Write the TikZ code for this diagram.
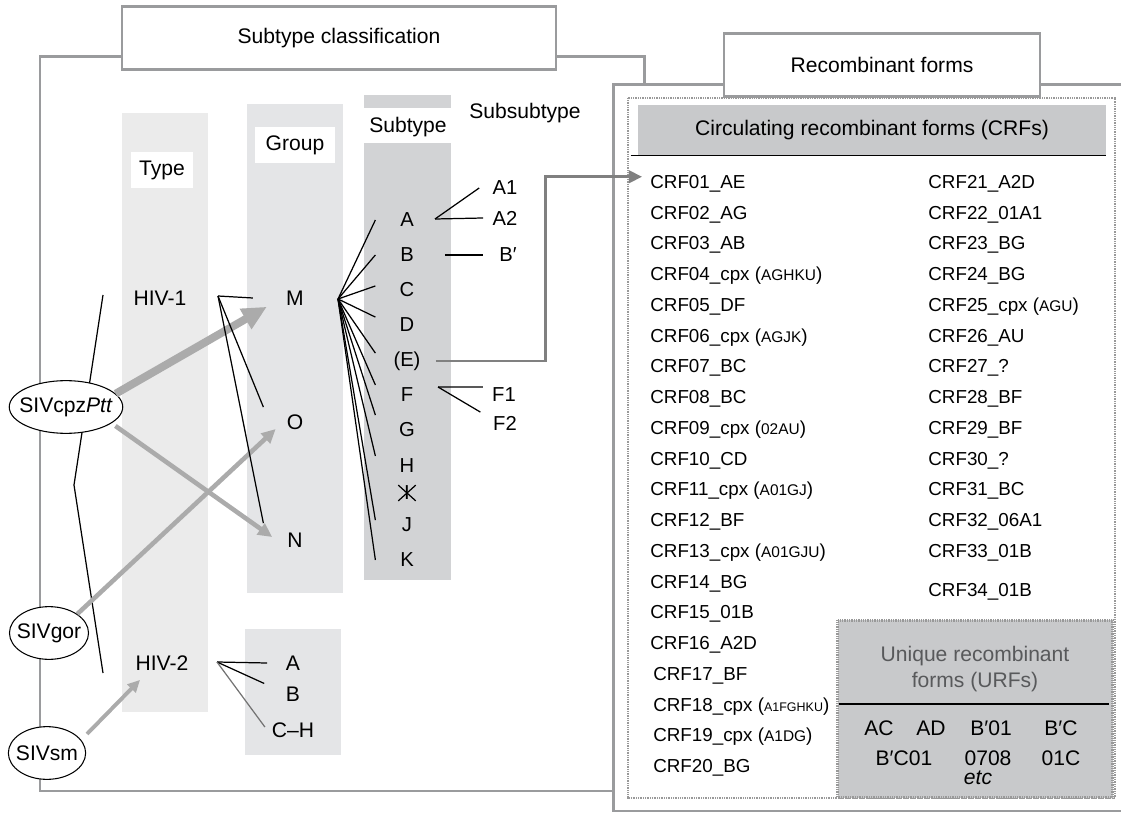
\documentclass[tikz,border=0pt]{standalone}
\usepackage{fontspec}
\setmainfont{Liberation Sans}
\usetikzlibrary{shapes.geometric,arrows.meta}
\definecolor{typegray}{HTML}{EBEBEB}
\definecolor{groupgray}{HTML}{E4E5E7}
\definecolor{subgray}{HTML}{D2D3D5}
\definecolor{boxgray}{HTML}{C8C9CB}
\definecolor{framegray}{HTML}{9A9B9D}
\definecolor{sivgray}{HTML}{ABABAB}
\definecolor{urftext}{HTML}{58595B}
\newcommand{\smc}[1]{{\fontsize{8.8}{10}\selectfont #1}}
\newcommand{\tinyc}[1]{{\fontsize{7.1}{9}\selectfont #1}}

\begin{document}
\begin{tikzpicture}[x=0.02cm, y=-0.02cm, font=\fontsize{12}{14}\selectfont,
    frm/.style={draw=framegray, line width=1.7pt},
    tag/.style={draw=framegray, line width=1.5pt, fill=white, minimum height=36pt},
    hdr/.style={fill=white, minimum height=20pt, inner sep=1pt},
    ltr/.style={inner sep=1pt},
    sub/.style={inner sep=1pt, font=\fontsize{11.5}{13}\selectfont},
    siv/.style={draw, ellipse, fill=white, line width=0.6pt, inner sep=0pt, minimum height=30pt},
    sivarr/.style={draw=sivgray, line width=2.6pt, -{Triangle[length=8pt,width=7.5pt]}},
    lnk/.style={line width=0.7pt},
    earrow/.style={draw=black!50, line width=1.7pt, -{Triangle[length=7.5pt,width=7pt]}},
    crf/.style={align=left, inner sep=0pt, anchor=north west, font=\fontsize{10.7}{17.5}\selectfont},
    dotbox/.style={draw=black!40, line width=1.6pt, dash pattern=on 0.5pt off 0.5pt},
  ]
  \useasboundingbox (0,0) rectangle (1121,813);

  % subtype classification frame
  \draw[frm] (40,57) rectangle (644,791);
  \node[tag, minimum width=247pt] (sct) at (339,38) {Subtype classification};

  % columns
  \fill[typegray] (122,113) rectangle (208,712);
  \fill[groupgray] (247,104) rectangle (343,593);
  \fill[groupgray] (245,629) rectangle (341,755);
  \fill[subgray] (364,95) rectangle (451,108);
  \fill[subgray] (364,143) rectangle (451,580);
  \node[hdr, minimum width=35pt] (type) at (162,170) {Type};
  \node[hdr, minimum width=46pt] (group) at (295,145) {Group};
  \node[ltr] (subt) at (408,127) {Subtype};
  \node[ltr] (subsub) at (525,113) {Subsubtype};

  % SIV origins
  \draw[lnk] (103,295) -- (74,485) -- (103,673);
  \node[siv, minimum width=64.6pt, label=center:{SIVcpz\textit{Ptt}}] (cpz) at (66,407) {};
  \node[siv, minimum width=45pt, label=center:{SIVgor}] (gor) at (49,633) {};
  \node[siv, minimum width=44pt, label=center:{SIVsm}] (sm) at (47,753) {};

  % types and groups
  \node[ltr] (h1) at (160,298) {HIV-1};
  \node[ltr] (h2) at (162,663) {HIV-2};
  \node[ltr] (gM) at (295,298) {M};
  \node[ltr] (gO) at (295,422) {O};
  \node[ltr] (gN) at (295,540) {N};
  \node[ltr] (gA) at (293,663) {A};
  \node[ltr] (gB) at (293,694) {B};
  \node[ltr] (gCH) at (293,730) {C–H};

  % cross-species transmissions
  \draw[sivarr, line width=4.5pt, -{Triangle[length=14pt,width=12.5pt]}] (cpz.15) -- ([xshift=-16pt,yshift=-5pt]gM.center);
  \draw[sivarr] ([xshift=5pt]cpz.-25) -- ([xshift=-13pt,yshift=1.7pt]gN.center);
  \draw[sivarr] (gor.north east) -- ([xshift=-11pt,yshift=-4pt]gO.center);
  \draw[sivarr, line width=2.2pt, -{Triangle[length=7pt,width=6.5pt]}] ([xshift=7pt]sm.north east) -- ([xshift=-12.5pt,yshift=-9.6pt]h2.center);

  % subtypes
  \node[sub] (sA) at (407,220) {A};
  \node[sub] (sB) at (407,255) {B};
  \node[sub] (sC) at (407,290) {C};
  \node[sub] (sD) at (407,325) {D};
  \node[sub] (sE) at (407,361) {(E)};
  \node[sub] (sF) at (407,395) {F};
  \node[sub] (sG) at (407,430) {G};
  \node[sub] (sH) at (407,466) {H};
  \node[sub] (sI) at (407,493) {I};
  \draw[lnk] ([xshift=-5pt,yshift=4.5pt]sI.center) -- ([xshift=5pt,yshift=-4.5pt]sI.center);
  \draw[lnk] ([xshift=5pt,yshift=4.5pt]sI.center) -- ([xshift=-5pt,yshift=-4.5pt]sI.center);
  \node[sub] (sJ) at (407,525) {J};
  \node[sub] (sK) at (407,560) {K};
  \node[sub] (sA1) at (505,188) {A1};
  \node[sub] (sA2) at (505,218) {A2};
  \node[sub] (sBp) at (508,255) {B′};
  \node[sub] (sF1) at (504,395) {F1};
  \node[sub] (sF2) at (505,423) {F2};

  % branching
  \coordinate (h1fan) at (218,296);
  \draw[lnk] (h1fan) -- ([xshift=-24pt]gM.center);
  \draw[lnk] (h1fan) -- ([xshift=-18pt,yshift=8.5pt]gO.center);
  \draw[lnk] (h1fan) -- ([xshift=-18pt,yshift=9.6pt]gN.center);
  \coordinate (h2fan) at (217,662);
  \draw[lnk] (h2fan) -- ([xshift=-14.7pt]gA.center);
  \draw[lnk] (h2fan) -- ([xshift=-16.4pt,yshift=6pt]gB.center);
  \draw[lnk, black!55] (h2fan) -- ([xshift=-16pt,yshift=1.7pt]gCH.center);
  \coordinate (mfan) at (338,299);
  \foreach \s/\dy in {A/0,B/0,C/2.3,D/4.5,E/4.5,F/5.7,G/8.5,H/5.7,J/2.8,K/0}
    \draw[lnk] (mfan) -- ([xshift=-18pt,yshift=\dy pt]s\s.center);
  \coordinate (afan) at (435,219);
  \draw[lnk] (afan) -- ([xshift=-14.7pt]sA1.center);
  \draw[lnk] (afan) -- ([xshift=-12.5pt]sA2.center);
  \draw[lnk] ([xshift=21.5pt]sB.center) -- ([xshift=-14pt]sBp.center);
  \coordinate (ffan) at (438,387);
  \draw[lnk] (ffan) -- ([xshift=-12pt,yshift=4.5pt]sF1.center);
  \draw[lnk] (ffan) -- ([xshift=-14pt,yshift=6.2pt]sF2.center);

  % recombinant forms frame
  \draw[frm, fill=white] (613,85) rectangle (1140,811);
  \node[tag, minimum width=180pt] (rft) at (882,65) {Recombinant forms};
  \draw[dotbox] (628,98) rectangle (1115,798);
  \node[fill=boxgray, minimum width=266.5pt, minimum height=28.4pt] (crfh) at (872,130) {Circulating recombinant forms (CRFs)};
  \draw[lnk] ([xshift=-4pt]crfh.south west) -- (crfh.south east);

  % CRF lists
  \node[crf] (crfL) at (650,175) {CRF01\_AE\\ CRF02\_AG\\ CRF03\_AB\\ CRF04\_cpx (\smc{AGHKU})\\ CRF05\_DF\\
    CRF06\_cpx (\smc{AGJK})\\ CRF07\_BC\\ CRF08\_BC\\ CRF09\_cpx (\smc{02AU})\\ CRF10\_CD\\
    CRF11\_cpx (\smc{A01GJ})\\ CRF12\_BF\\ CRF13\_cpx (\smc{A01GJU})\\ CRF14\_BG\\ CRF15\_01B\\ CRF16\_A2D\\
    \hspace*{1.7pt}CRF17\_BF\\ \hspace*{1.7pt}CRF18\_cpx (\tinyc{A1FGHKU})\\ \hspace*{1.7pt}CRF19\_cpx (\smc{A1DG})\\ \hspace*{1.7pt}CRF20\_BG};
  \node[crf] (crfR) at (928,175) {CRF21\_A2D\\ CRF22\_01A1\\ CRF23\_BG\\ CRF24\_BG\\ CRF25\_cpx (\smc{AGU})\\
    CRF26\_AU\\ CRF27\_?\\ CRF28\_BF\\ CRF29\_BF\\ CRF30\_?\\ CRF31\_BC\\ CRF32\_06A1\\ CRF33\_01B\\[4.5pt] CRF34\_01B};

  % unique recombinant forms
  \node[dotbox, fill=boxgray, minimum width=156.5pt, minimum height=101pt] (urf) at (975,709) {};
  \node[align=center, text=urftext, font=\fontsize{12}{14.7}\selectfont] (urft) at (975,669) {Unique recombinant\\forms (URFs)};
  \draw[lnk] ([xshift=1.5pt,yshift=2.8pt]urf.west) -- ([xshift=-3pt,yshift=2.8pt]urf.east);
  \node[ltr] (uAC) at (879,728) {AC};
  \node[ltr] (uAD) at (931,728) {AD};
  \node[ltr] (uB01) at (991,728) {B′01};
  \node[ltr] (uBC) at (1061,728) {B′C};
  \node[ltr] (uBC01) at (904,758) {B′C01};
  \node[ltr] (u0708) at (988,758) {0708};
  \node[ltr] (u01C) at (1061,758) {01C};
  \node[ltr, font=\fontsize{12}{14}\itshape] (uetc) at (978,778) {etc};

  % subtype E link to CRF01
  \coordinate (ebend) at (545,300);
  \draw[earrow] ([xshift=16.4pt]sE.center) -| (ebend) |- ([xshift=-4.5pt,yshift=-1pt]crfL.north west);
\end{tikzpicture}
\end{document}
